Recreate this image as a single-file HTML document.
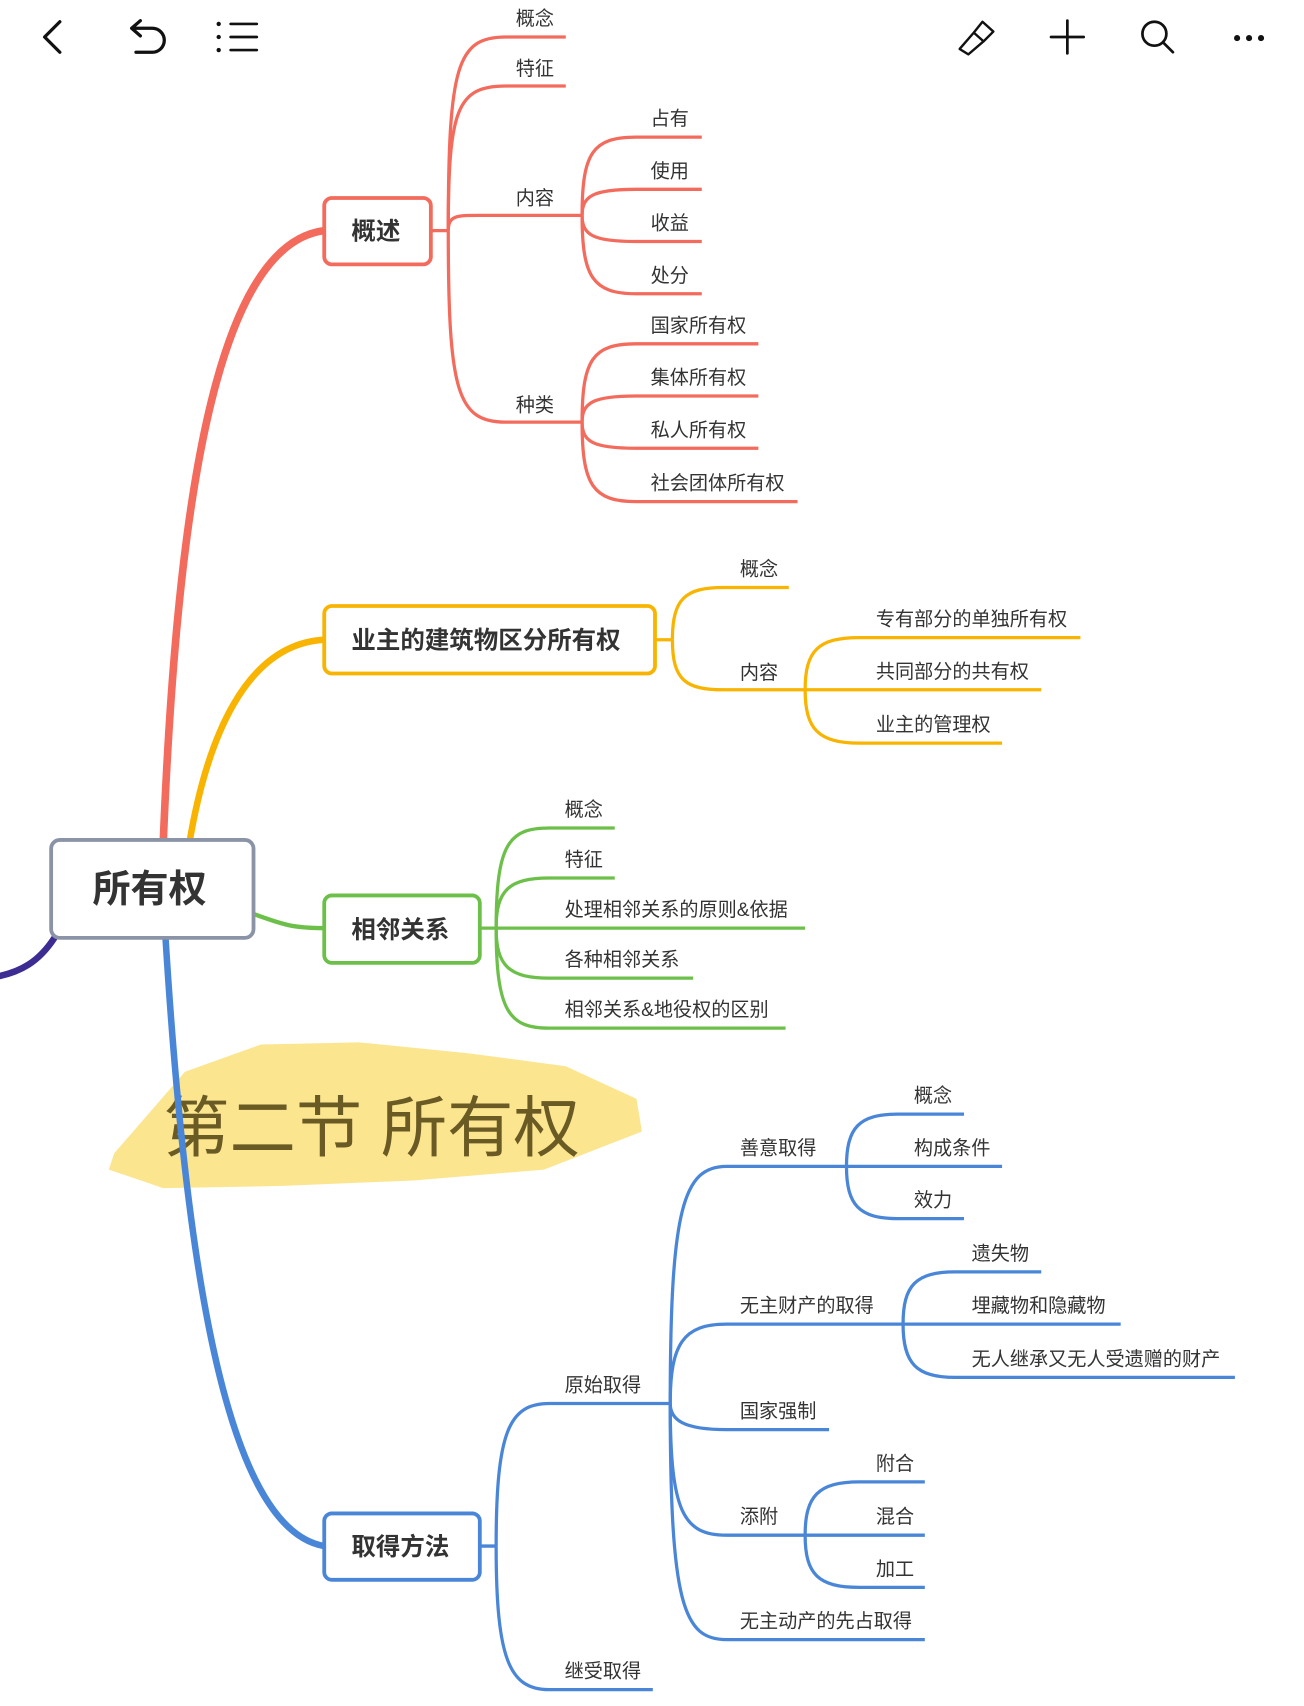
<!DOCTYPE html>
<html><head><meta charset="utf-8"><style>
html,body{margin:0;padding:0;background:#fff;}
svg{display:block;}
text{font-family:"Liberation Sans","Noto Sans CJK SC",sans-serif;fill:#333;}
.l{font-size:17.6px;}
.b{font-size:22.5px;font-weight:bold;}
</style></head><body>
<svg width="1304" height="1706" viewBox="0 0 1198.5 1568" preserveAspectRatio="none" xmlns="http://www.w3.org/2000/svg">
<!-- toolbar -->
<g fill="none" stroke="#111" stroke-width="3" stroke-linecap="round" stroke-linejoin="round">
<path d="M55,20 L41,34 L55,48"/>
<path d="M122,26 H140 A11,11 0 0 1 140,48 H125 M129,19 L121,26 L129,33"/>
<path d="M212,22 H236 M212,34 H236 M212,46 H236" stroke-width="2.5"/>
<path d="M966,34 H996 M981,19 V49" stroke-width="2.5"/>
<circle cx="1061" cy="31" r="11" stroke-width="2.5"/><path d="M1069,39 L1078,48" stroke-width="2.5"/>
<path d="M882,45 L895,30 L904,38 L890,50 Z M895,30 L903,20 L913,29 L904,38" stroke-width="2.2"/>
</g>
<g fill="#111"><circle cx="201" cy="22" r="2"/><circle cx="201" cy="34" r="2"/><circle cx="201" cy="46" r="2"/>
<circle cx="1137" cy="35" r="2.8"/><circle cx="1148" cy="35" r="2.8"/><circle cx="1159" cy="35" r="2.8"/></g>

<!-- highlight -->
<g fill="#f9dc6a" opacity="0.75">
<path d="M105,1060 L170,985 L240,960 L330,958 L430,968 L520,980 L585,1010 L590,1040 L500,1075 L380,1085 L260,1090 L150,1092 L100,1075 Z"/>
</g>
<text x="150" y="1058" style="font-size:61px;fill:#6a5a24;">第二节 所有权</text>

<!-- main branches -->
<g fill="none" stroke-linecap="round">
<path d="M50,862 C35,885 18,893 0,897" stroke="#3d2d92" stroke-width="6"/>
<path d="M150,775 C162,480 195,225 298,212" stroke="#f36b5c" stroke-width="7"/>
<path d="M174,775 C190,680 225,592 298,588" stroke="#f8b400" stroke-width="6"/>
<path d="M233,840 C260,850 270,853 298,853" stroke="#6cc04a" stroke-width="4"/>
<path d="M152,860 C170,1150 205,1405 298,1421" stroke="#4a86d8" stroke-width="6"/>
</g>

<!-- red subtree -->
<g fill="none" stroke="#f36b5c" stroke-width="3">
<path d="M396,212 H412"/>
<path d="M412,212 C412,60 420,34 465,34 H520"/>
<path d="M412,212 C412,100 420,79 465,79 H520"/>
<path d="M412,212 C412,198 420,198 440,198 H535"/>
<path d="M412,212 C412,360 420,388 465,388 H535"/>
<path d="M535,198 C535,140 545,126 585,126 H645"/>
<path d="M535,198 C535,180 545,174 585,174 H645"/>
<path d="M535,198 C535,216 545,222 585,222 H645"/>
<path d="M535,198 C535,255 545,270 585,270 H645"/>
<path d="M535,388 C535,330 545,316 585,316 H697"/>
<path d="M535,388 C535,370 545,364 585,364 H697"/>
<path d="M535,388 C535,406 545,412 585,412 H697"/>
<path d="M535,388 C535,446 545,461 585,461 H733"/>
</g>
<rect x="298" y="182" width="98" height="61" rx="7" fill="#fff" stroke="#f36b5c" stroke-width="3.5"/>
<text class="b" x="323" y="220">概述</text>
<text class="l" x="474" y="23">概念</text>
<text class="l" x="474" y="69">特征</text>
<text class="l" x="474" y="188">内容</text>
<text class="l" x="474" y="378">种类</text>
<text class="l" x="598" y="115">占有</text>
<text class="l" x="598" y="163">使用</text>
<text class="l" x="598" y="211">收益</text>
<text class="l" x="598" y="259">处分</text>
<text class="l" x="598" y="305">国家所有权</text>
<text class="l" x="598" y="353">集体所有权</text>
<text class="l" x="598" y="401">私人所有权</text>
<text class="l" x="598" y="450">社会团体所有权</text>

<!-- orange subtree -->
<g fill="none" stroke="#f8b400" stroke-width="3">
<path d="M602,588 H618"/>
<path d="M618,588 C618,550 630,540 665,540 H725"/>
<path d="M618,588 C618,625 630,634 665,634 H740"/>
<path d="M740,634 C740,598 752,586 790,586 H993"/>
<path d="M740,634 H957"/>
<path d="M740,634 C740,670 752,683 790,683 H921"/>
</g>
<rect x="298" y="557" width="304" height="62" rx="7" fill="#fff" stroke="#f8b400" stroke-width="3.5"/>
<text class="b" x="323" y="596">业主的建筑物区分所有权</text>
<text class="l" x="680" y="529">概念</text>
<text class="l" x="680" y="624">内容</text>
<text class="l" x="805" y="575">专有部分的单独所有权</text>
<text class="l" x="805" y="623">共同部分的共有权</text>
<text class="l" x="805" y="672">业主的管理权</text>

<!-- green subtree -->
<g fill="none" stroke="#6cc04a" stroke-width="3">
<path d="M441,853 H456"/>
<path d="M456,853 C456,775 468,761 505,761 H565"/>
<path d="M456,853 C456,818 468,807 505,807 H565"/>
<path d="M456,853 H740"/>
<path d="M456,853 C456,888 468,899 505,899 H637"/>
<path d="M456,853 C456,930 468,945 505,945 H722"/>
</g>
<rect x="298" y="823" width="143" height="62" rx="7" fill="#fff" stroke="#6cc04a" stroke-width="3.5"/>
<text class="b" x="323" y="862">相邻关系</text>
<text class="l" x="519" y="750">概念</text>
<text class="l" x="519" y="796">特征</text>
<text class="l" x="519" y="842">处理相邻关系的原则&amp;依据</text>
<text class="l" x="519" y="888">各种相邻关系</text>
<text class="l" x="519" y="934">相邻关系&amp;地役权的区别</text>

<!-- blue subtree -->
<g fill="none" stroke="#4a86d8" stroke-width="3">
<path d="M441,1421 H456"/>
<path d="M456,1421 C456,1315 468,1290 505,1290 H616"/>
<path d="M456,1421 C456,1525 468,1553 505,1553 H600"/>
<path d="M616,1290 C616,1110 628,1072 668,1072 H778"/>
<path d="M616,1290 C616,1235 628,1217 668,1217 H830"/>
<path d="M616,1290 C616,1305 628,1314 668,1314 H762"/>
<path d="M616,1290 C616,1390 628,1411 668,1411 H740"/>
<path d="M616,1290 C616,1475 628,1507 668,1507 H850"/>
<path d="M778,1072 C778,1036 790,1024 825,1024 H886"/>
<path d="M778,1072 H921"/>
<path d="M778,1072 C778,1108 790,1120 825,1120 H886"/>
<path d="M830,1217 C830,1181 842,1169 878,1169 H957"/>
<path d="M830,1217 H1030"/>
<path d="M830,1217 C830,1253 842,1266 878,1266 H1135"/>
<path d="M740,1411 C740,1375 752,1362 790,1362 H850"/>
<path d="M740,1411 H850"/>
<path d="M740,1411 C740,1447 752,1459 790,1459 H850"/>
</g>
<rect x="298" y="1391" width="143" height="61" rx="7" fill="#fff" stroke="#4a86d8" stroke-width="3.5"/>
<text class="b" x="323" y="1429">取得方法</text>
<text class="l" x="519" y="1279">原始取得</text>
<text class="l" x="519" y="1542">继受取得</text>
<text class="l" x="680" y="1061">善意取得</text>
<text class="l" x="680" y="1206">无主财产的取得</text>
<text class="l" x="680" y="1303">国家强制</text>
<text class="l" x="680" y="1400">添附</text>
<text class="l" x="680" y="1496">无主动产的先占取得</text>
<text class="l" x="840" y="1013">概念</text>
<text class="l" x="840" y="1061">构成条件</text>
<text class="l" x="840" y="1109">效力</text>
<text class="l" x="893" y="1158">遗失物</text>
<text class="l" x="893" y="1206">埋藏物和隐藏物</text>
<text class="l" x="893" y="1255">无人继承又无人受遗赠的财产</text>
<text class="l" x="805" y="1351">附合</text>
<text class="l" x="805" y="1400">混合</text>
<text class="l" x="805" y="1448">加工</text>

<!-- central -->
<rect x="47" y="772" width="186" height="90" rx="8" fill="#fff" stroke="#8a94a6" stroke-width="3.5"/>
<text x="85" y="829" style="font-size:35px;font-weight:bold;">所有权</text>
</svg>
</body></html>
